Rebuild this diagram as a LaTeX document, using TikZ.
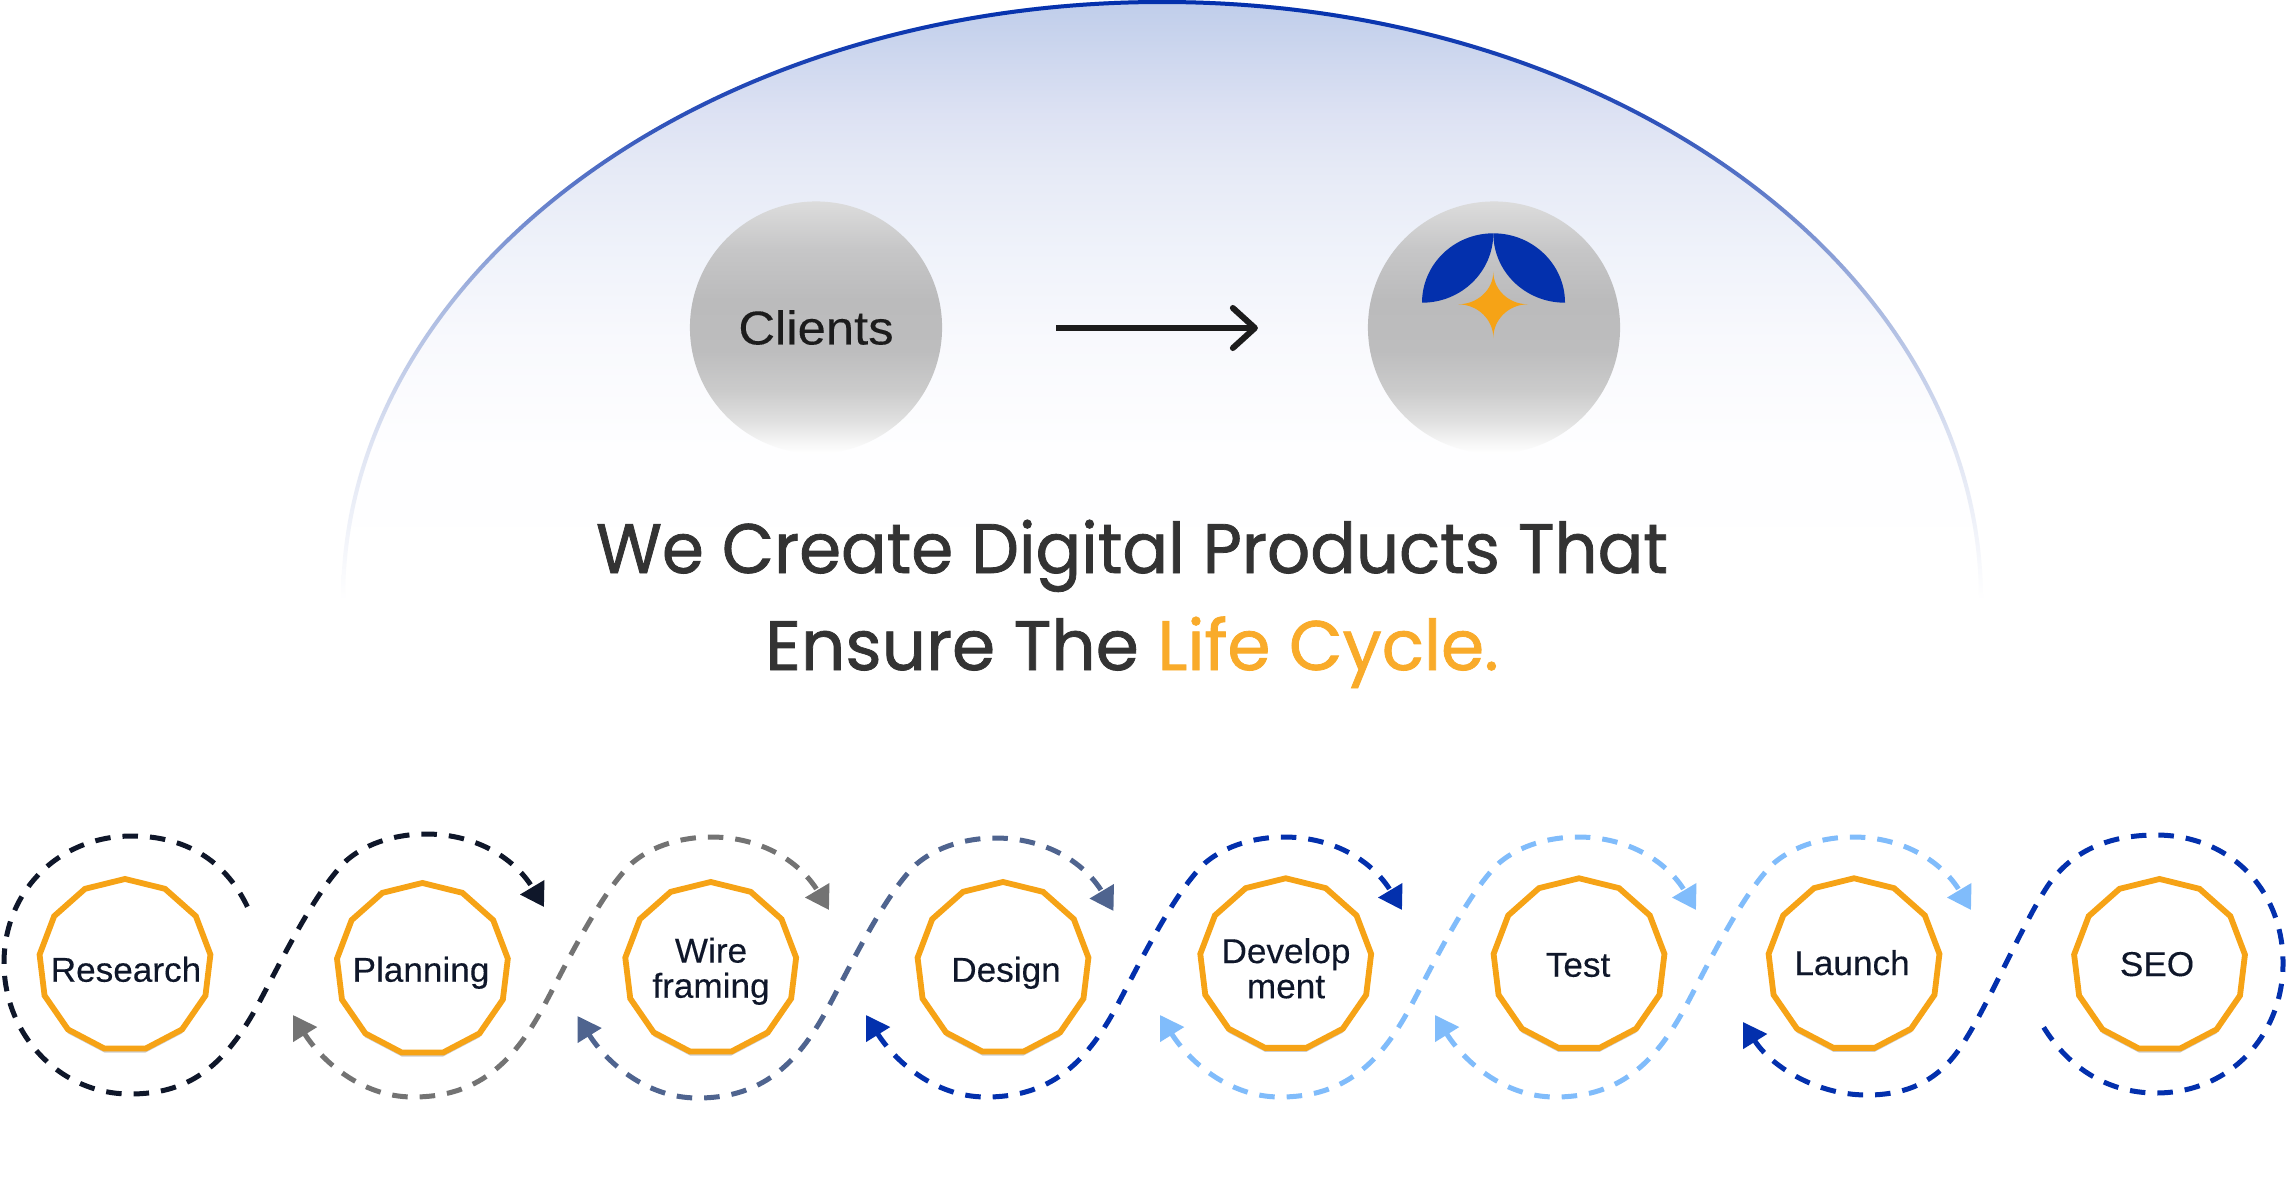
\documentclass[tikz,border=0pt]{standalone}
\usepackage{fontspec}
\setmainfont{Liberation Sans}
\newfontfamily\headfontA{Poppins}[FakeStretch=0.965,FakeBold=1.1]
\newfontfamily\headfontB{Poppins}[FakeStretch=0.993,FakeBold=1.1]
\newfontfamily\labelfont{Liberation Sans}[FakeStretch=1.02,FakeBold=0.25]
\newfontfamily\clientfont{Liberation Sans}[FakeStretch=1.07,FakeBold=0.2]
\usetikzlibrary{arrows.meta,shapes.geometric,shadows}
\definecolor{brandblue}{HTML}{0330AD}
\definecolor{brandorange}{HTML}{F6A316}
\definecolor{headorange}{HTML}{F9AB2A}
\definecolor{navyink}{HTML}{0F172A}
\definecolor{midgray}{HTML}{737373}
\definecolor{slateblue}{HTML}{4F648F}
\definecolor{skyblue}{HTML}{80BCFB}
\definecolor{headink}{HTML}{333333}
\definecolor{arrowink}{HTML}{1C1C1C}
\pgfdeclareverticalshading{archfill}{100bp}{
 color(0bp)=(white); color(25bp)=(white);
 rgb(37.5bp)=(.996,.996,1); rgb(46.7bp)=(.973,.976,.992); rgb(54.2bp)=(.937,.949,.98);
 rgb(60.8bp)=(.902,.918,.965); rgb(65.4bp)=(.867,.886,.953);
 rgb(75bp)=(.749,.804,.918); rgb(100bp)=(.749,.804,.918)}
\pgfdeclareverticalshading{archline}{100bp}{
 color(0bp)=(white); color(25bp)=(white);
 rgb(37.5bp)=(.878,.898,.953); rgb(50bp)=(.659,.722,.878); rgb(65bp)=(.184,.322,.729);
 rgb(75bp)=(.012,.188,.678); rgb(100bp)=(.012,.188,.678)}
\pgfdeclareverticalshading{discgray}{100bp}{
 color(0bp)=(white); color(25bp)=(white);
 rgb(26.6bp)=(.973,.973,.973); rgb(31.5bp)=(.878,.878,.878); rgb(37.5bp)=(.796,.796,.796);
 rgb(45.4bp)=(.741,.741,.745); rgb(55.4bp)=(.733,.733,.737); rgb(65.3bp)=(.776,.776,.78);
 rgb(75bp)=(.863,.863,.863); rgb(100bp)=(.863,.863,.863)}
\tikzset{
 x=0.01cm, y=-0.01cm,
 polybox/.style={regular polygon, regular polygon sides=13, minimum size=1.72cm, inner sep=0pt, outer sep=0pt,
   draw=brandorange, line width=0.058cm, fill=white, line join=miter,
   drop shadow={shadow xshift=0pt, shadow yshift=-0.04cm, opacity=.2, fill=black}},
 polylabel/.style={text=navyink, font=\labelfont\fontsize{9.8}{10}\selectfont, inner sep=0pt, align=center},
 disc/.style={circle, minimum size=2.52cm, inner sep=0pt, outer sep=0pt, shade, shading=discgray},
 flowline/.style={line width=0.05cm, dash pattern=on 0.155cm off 0.12cm},
 flowtip/.style={{Triangle[length=.23cm,width=.27cm]}-{Triangle[length=.23cm,width=.27cm]}},
 endtip/.style={-{Triangle[length=.23cm,width=.27cm]}},
 starttip/.style={{Triangle[length=.23cm,width=.27cm]}-},
 headline/.style={text=headink, anchor=base, inner sep=0pt},
}
\newcommand{\scurve}[3]{%
 \draw[flowline, flowtip, draw=#3, fill=none, shift={(#1,#2)}]
  (0,0) .. controls (28,45) and (68,82) .. (120,82)
  .. controls (178,82) and (215,55) .. (247,-2)
  .. controls (265,-34) and (305,-120) .. (339,-152)
  .. controls (360,-170) and (390,-178) .. (418,-178)
  .. controls (470,-178) and (508,-152) .. (536,-105);
}
\begin{document}
\begin{tikzpicture}
\useasboundingbox (0,0) rectangle (2286,1200);
\fill[white] (0,0) rectangle (2286,1200);
% arch
\shade[shading=archfill] (341,600) .. controls (341,268.6) and (708.6,0) .. (1162,0)
  .. controls (1615.4,0) and (1983,268.6) .. (1983,600) -- cycle;
\shade[shading=archline] (341,600) .. controls (341,268.6) and (708.6,0) .. (1162,0)
  .. controls (1615.4,0) and (1983,268.6) .. (1983,600)
  -- (1979,600) .. controls (1979,270.8) and (1613.2,4) .. (1162,4)
  .. controls (710.8,4) and (345,270.8) .. (345,600) -- cycle;
% discs
\node[disc, text=arrowink, font=\clientfont\fontsize{13.5}{15}\selectfont] (clients) at (816,327.5) {Clients};
\node[disc] (logo) at (1494,327.5) {};
\coordinate (arrowlevel) at (0,328);
\draw[arrowink, line width=0.06cm, shorten <=1.14cm, shorten >=1.10cm,
  -{Straight Barb[length=.22cm,width=.40cm,round]}] (clients.east |- arrowlevel) -- (logo.west |- arrowlevel);
% logo
\fill[brandblue] (1422,302.7) .. controls (1422,264.4) and (1453.9,233.3) .. (1493.3,233.3)
  .. controls (1493.3,271.6) and (1461.4,302.7) .. (1422,302.7) -- cycle;
\fill[brandblue] (1565,302.7) .. controls (1565,264.4) and (1532.7,233.3) .. (1493.3,233.3)
  .. controls (1493.3,271.6) and (1525.2,302.7) .. (1565,302.7) -- cycle;
\fill[brandorange] (1493.3,271.7) .. controls (1493.3,289.7) and (1508.8,304.3) .. (1528,304.3)
  .. controls (1508.8,304.3) and (1493.3,319.4) .. (1493.3,338)
  .. controls (1493.3,319.4) and (1477.5,304.3) .. (1458,304.3)
  .. controls (1477.5,304.3) and (1493.3,289.7) .. (1493.3,271.7) -- cycle;
% headline
\node[headline, font=\headfontA\fontsize{19.9}{24}\selectfont] (lineone) at (1132,573) {We Create Digital Products That};
\node[headline, font=\headfontB\fontsize{19.9}{24}\selectfont] (linetwo) at (1132,670) {Ensure The \textcolor{headorange}{Life Cycle.}};
% dashed flow
\draw[flowline, endtip, navyink]
  (247.4,906.7) .. controls (225,860) and (185,836) .. (131.6,836)
  .. controls (60,836) and (4,890) .. (4,963)
  .. controls (4,1035) and (60,1094) .. (130,1094)
  .. controls (188,1094) and (223,1067) .. (255,1010)
  .. controls (273,978) and (313,892) .. (347,860)
  .. controls (368,842) and (398,834) .. (426,834)
  .. controls (478,834) and (516,860) .. (544,907);
\scurve{293}{1015}{midgray}
\scurve{577.5}{1016}{slateblue}
\scurve{866}{1015}{brandblue}
\scurve{1160}{1015}{skyblue}
\scurve{1435}{1015}{skyblue}
\draw[flowline, starttip, brandblue]
  (1743,1022) .. controls (1770,1065) and (1815,1095) .. (1867,1095)
  .. controls (1915,1095) and (1945,1075) .. (1967,1037)
  .. controls (1990,1000) and (2020,930) .. (2045,890)
  .. controls (2070,850) and (2110,835) .. (2156,835)
  .. controls (2230,835) and (2283,890) .. (2283,963)
  .. controls (2283,1035) and (2230,1093) .. (2156,1093)
  .. controls (2105,1093) and (2065,1065) .. (2040.5,1022);
% polygons
\node[polybox] (research) at (125,965) {};
\node[polybox] (planning) at (422.4,969) {};
\node[polybox] (wire) at (710.7,968) {};
\node[polybox] (design) at (1003,968) {};
\node[polybox] (develop) at (1285.7,964.3) {};
\node[polybox] (test) at (1579,964.3) {};
\node[polybox] (launch) at (1854,964.3) {};
\node[polybox] (seo) at (2159.5,965) {};
% labels
\node[polylabel, anchor=base] (lresearch) at (126,981.7) {Research};
\node[polylabel, anchor=base] (lplanning) at (421,981.7) {Planning};
\node[polylabel] (lwire) at (711,971.2) {Wire\\framing};
\node[polylabel, anchor=base] (ldesign) at (1006,981.7) {Design};
\node[polylabel] (ldevelop) at (1286,968.3) {Develop\\ment};
\node[polylabel, anchor=base] (ltest) at (1578,976.7) {Test};
\node[polylabel, anchor=base] (llaunch) at (1852,975) {Launch};
\node[polylabel, anchor=base] (lseo) at (2157,976) {SEO};
\end{tikzpicture}
\end{document}
